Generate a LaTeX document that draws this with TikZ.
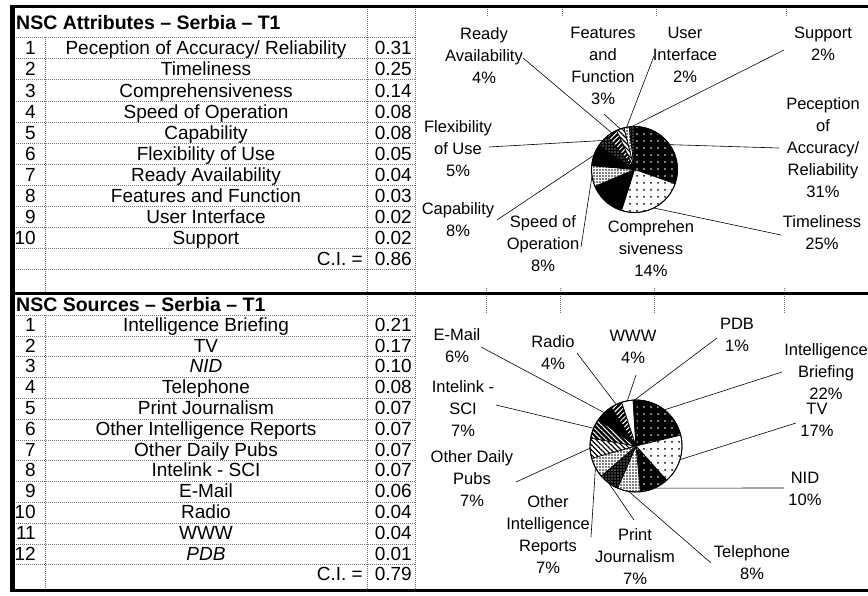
\documentclass[tikz,border=0pt]{standalone}
\usepackage{fontspec}
\setmainfont{Liberation Sans}
\usetikzlibrary{patterns.meta}
\newcommand{\pslice}[5]{\path[#5] (#1) -- ++(#3:#2) arc[start angle=#3, end angle=#4, radius=#2] -- cycle;}
\begin{document}
\begin{tikzpicture}[x=1pt,y=1pt,
  gridline/.style={black!55, line width=0.5pt, dash pattern=on 0.8pt off 1.2pt},
  frame/.style={black, line width=3pt},
  cell/.style={font=\fontsize{19}{22}\selectfont, inner sep=0pt},
  ttl/.style={font=\bfseries\fontsize{19.5}{22}\selectfont, inner sep=0pt, anchor=base west},
  lbl/.style={align=center, font=\fontsize{16.5}{22}\selectfont, inner sep=0pt, anchor=north},
  lead/.style={black, line width=0.6pt},
  sl/.style={draw=black, line width=0.7pt},
  bdot/.style={preaction={fill=black}, pattern={Dots[distance=7pt, radius=0.9pt]}, pattern color=white},
  wdot/.style={preaction={fill=white}, pattern={Dots[distance=7pt, radius=1pt]}, pattern color=black},
  fine/.style={preaction={fill=white}, pattern={Dots[distance=3pt, radius=0.8pt]}, pattern color=black},
  bfine/.style={preaction={fill=black}, pattern={Dots[distance=3pt, radius=0.7pt]}, pattern color=white},
  bstripe/.style={preaction={fill=black}, pattern={Lines[angle=45, distance=3.5pt, line width=1pt]}, pattern color=white},
  bstripeb/.style={preaction={fill=black}, pattern={Lines[angle=-45, distance=3.5pt, line width=1pt]}, pattern color=white},
  wstripe/.style={preaction={fill=white}, pattern={Lines[angle=-45, distance=3.5pt, line width=1.2pt]}, pattern color=black},
]
\fill[white] (0,0) rectangle (868,-596);
\useasboundingbox (0,0) rectangle (868,-596);

% ---------- table grid ----------
\foreach \y in {37.5,58.6,79.7,100.8,121.9,143.0,164.1,185.2,206.3,227.4,248.5,269.6}
  \draw[gridline] (14,-\y) -- (415,-\y);
\draw[gridline] (45,-37.5) -- (45,-294);
\draw[gridline] (367,-7) -- (367,-294);
\draw[gridline] (415,-7) -- (415,-294);
\foreach \y in {315.0,335.8,356.6,377.4,398.2,419.0,439.8,460.6,481.4,502.2,523.0,543.8,564.6}
  \draw[gridline] (14,-\y) -- (415,-\y);
\draw[gridline] (45,-315) -- (45,-590);
\draw[gridline] (367,-294) -- (367,-590);
\draw[gridline] (415,-294) -- (415,-590);
\foreach \x in {487,562,656,786} \draw[gridline] (\x,-7) -- (\x,-16);
\foreach \x in {486,560,654,784} \draw[gridline] (\x,-288) -- (\x,-313);

% ---------- frame ----------
\draw[frame] (10,-7) -- (868,-7);
\draw[frame] (10,-294) -- (868,-294);
\draw[frame] (10,-590) -- (868,-590);
\draw[black, line width=5pt] (12,-5.5) -- (12,-591.5);

% ---------- top table ----------
\node[ttl] (ta0) at (16,-30) {NSC Attributes – Serbia – T1};
\node[cell, anchor=base east] (ta1n) at (36,-54.85) {1};
\node[cell, anchor=base] (ta1t) at (206,-54.85) {Peception of Accuracy/ Reliability};
\node[cell, anchor=base east] (ta1v) at (412,-54.85) {0.31};
\node[cell, anchor=base east] (ta2n) at (36,-75.95) {2};
\node[cell, anchor=base] (ta2t) at (206,-75.95) {Timeliness};
\node[cell, anchor=base east] (ta2v) at (412,-75.95) {0.25};
\node[cell, anchor=base east] (ta3n) at (36,-97.05) {3};
\node[cell, anchor=base] (ta3t) at (206,-97.05) {Comprehensiveness};
\node[cell, anchor=base east] (ta3v) at (412,-97.05) {0.14};
\node[cell, anchor=base east] (ta4n) at (36,-118.15) {4};
\node[cell, anchor=base] (ta4t) at (206,-118.15) {Speed of Operation};
\node[cell, anchor=base east] (ta4v) at (412,-118.15) {0.08};
\node[cell, anchor=base east] (ta5n) at (36,-139.25) {5};
\node[cell, anchor=base] (ta5t) at (206,-139.25) {Capability};
\node[cell, anchor=base east] (ta5v) at (412,-139.25) {0.08};
\node[cell, anchor=base east] (ta6n) at (36,-160.35) {6};
\node[cell, anchor=base] (ta6t) at (206,-160.35) {Flexibility of Use};
\node[cell, anchor=base east] (ta6v) at (412,-160.35) {0.05};
\node[cell, anchor=base east] (ta7n) at (36,-181.45) {7};
\node[cell, anchor=base] (ta7t) at (206,-181.45) {Ready Availability};
\node[cell, anchor=base east] (ta7v) at (412,-181.45) {0.04};
\node[cell, anchor=base east] (ta8n) at (36,-202.55) {8};
\node[cell, anchor=base] (ta8t) at (206,-202.55) {Features and Function};
\node[cell, anchor=base east] (ta8v) at (412,-202.55) {0.03};
\node[cell, anchor=base east] (ta9n) at (36,-223.65) {9};
\node[cell, anchor=base] (ta9t) at (206,-223.65) {User Interface};
\node[cell, anchor=base east] (ta9v) at (412,-223.65) {0.02};
\node[cell, anchor=base east] (ta10n) at (36,-244.75) {10};
\node[cell, anchor=base] (ta10t) at (206,-244.75) {Support};
\node[cell, anchor=base east] (ta10v) at (412,-244.75) {0.02};
\node[cell, anchor=base east] (taci) at (363,-265.85) {C.I. =};
\node[cell, anchor=base east] (taciv) at (412,-265.85) {0.86};

% ---------- bottom table ----------
\node[ttl] (tb0) at (16,-312) {NSC Sources – Serbia – T1};
\node[cell, anchor=base east] (tb1n) at (36,-331.3) {1};
\node[cell, anchor=base] (tb1t) at (206,-331.3) {Intelligence Briefing};
\node[cell, anchor=base east] (tb1v) at (412,-331.3) {0.21};
\node[cell, anchor=base east] (tb2n) at (36,-352.1) {2};
\node[cell, anchor=base] (tb2t) at (206,-352.1) {TV};
\node[cell, anchor=base east] (tb2v) at (412,-352.1) {0.17};
\node[cell, anchor=base east] (tb3n) at (36,-372.9) {3};
\node[cell, anchor=base] (tb3t) at (206,-372.9) {\itshape NID};
\node[cell, anchor=base east] (tb3v) at (412,-372.9) {0.10};
\node[cell, anchor=base east] (tb4n) at (36,-393.7) {4};
\node[cell, anchor=base] (tb4t) at (206,-393.7) {Telephone};
\node[cell, anchor=base east] (tb4v) at (412,-393.7) {0.08};
\node[cell, anchor=base east] (tb5n) at (36,-414.5) {5};
\node[cell, anchor=base] (tb5t) at (206,-414.5) {Print Journalism};
\node[cell, anchor=base east] (tb5v) at (412,-414.5) {0.07};
\node[cell, anchor=base east] (tb6n) at (36,-435.3) {6};
\node[cell, anchor=base] (tb6t) at (206,-435.3) {Other Intelligence Reports};
\node[cell, anchor=base east] (tb6v) at (412,-435.3) {0.07};
\node[cell, anchor=base east] (tb7n) at (36,-456.1) {7};
\node[cell, anchor=base] (tb7t) at (206,-456.1) {Other Daily Pubs};
\node[cell, anchor=base east] (tb7v) at (412,-456.1) {0.07};
\node[cell, anchor=base east] (tb8n) at (36,-476.9) {8};
\node[cell, anchor=base] (tb8t) at (206,-476.9) {Intelink - SCI};
\node[cell, anchor=base east] (tb8v) at (412,-476.9) {0.07};
\node[cell, anchor=base east] (tb9n) at (36,-497.7) {9};
\node[cell, anchor=base] (tb9t) at (206,-497.7) {E-Mail};
\node[cell, anchor=base east] (tb9v) at (412,-497.7) {0.06};
\node[cell, anchor=base east] (tb10n) at (36,-518.5) {10};
\node[cell, anchor=base] (tb10t) at (206,-518.5) {Radio};
\node[cell, anchor=base east] (tb10v) at (412,-518.5) {0.04};
\node[cell, anchor=base east] (tb11n) at (36,-539.3) {11};
\node[cell, anchor=base] (tb11t) at (206,-539.3) {WWW};
\node[cell, anchor=base east] (tb11v) at (412,-539.3) {0.04};
\node[cell, anchor=base east] (tb12n) at (36,-560.1) {12};
\node[cell, anchor=base] (tb12t) at (206,-560.1) {\itshape PDB};
\node[cell, anchor=base east] (tb12v) at (412,-560.1) {0.01};
\node[cell, anchor=base east] (tbci) at (363,-580.9) {C.I. =};
\node[cell, anchor=base east] (tbciv) at (412,-580.9) {0.79};

% ---------- top pie ----------
\coordinate (P1) at (634.5,-169.5);
\coordinate (pa1) at ([shift={(35.3:43)}]P1);
\coordinate (pa2) at ([shift={(-63.5:43)}]P1);
\coordinate (pa4) at ([shift={(188.8:43)}]P1);
\coordinate (pa5) at ([shift={(160.6:43)}]P1);
\coordinate (pa6) at ([shift={(137.6:43)}]P1);
\coordinate (pa7) at ([shift={(121.8:43)}]P1);
\coordinate (pa8) at ([shift={(109.4:43)}]P1);
\coordinate (pa9) at ([shift={(100.6:43)}]P1);
\coordinate (pa10) at ([shift={(93.5:43)}]P1);

\node[lbl] (la7) at (484,-27) {Ready\\Availability\\4\%};
\node[lbl] (la8) at (603,-27) {Features\\and\\Function\\3\%};
\node[lbl] (la9) at (685,-27) {User\\Interface\\2\%};
\node[lbl] (la10) at (823,-27) {Support\\2\%};
\node[lbl] (la1) at (823,-97) {Peception\\of\\Accuracy/\\Reliability\\31\%};
\node[lbl] (la6) at (458,-120) {Flexibility\\of Use\\5\%};
\node[lbl] (la5) at (458,-202) {Capability\\8\%};
\node[lbl] (la4) at (543,-215) {Speed of\\Operation\\8\%};
\node[lbl] (la3) at (651,-220) {Comprehen\\siveness\\14\%};
\node[lbl] (la2) at (822,-215) {Timeliness\\25\%};

\coordinate (ea7) at (523,-58);
\coordinate (ea8) at (604,-114);
\coordinate (ea9) at (654,-56);
\coordinate (ea10) at (784,-50);
\coordinate (ea1) at (779,-148);
\coordinate (ea6) at (489,-147);
\coordinate (ea5) at (497,-220);
\coordinate (ea4) at (581,-247);
\coordinate (ea2) at (781,-235);
\foreach \k in {1,2,4,5,6,7,8,9,10} \draw[lead] (ea\k) -- (pa\k);

\pslice{P1}{43}{90}{-19.41}{sl,bdot}
\pslice{P1}{43}{-19.41}{-107.65}{sl,wdot}
\pslice{P1}{43}{-107.65}{-157.06}{sl,fill=black}
\pslice{P1}{43}{-157.06}{-185.29}{sl,fine}
\pslice{P1}{43}{-185.29}{-213.53}{sl,fill=black}
\pslice{P1}{43}{-213.53}{-231.18}{sl,bfine}
\pslice{P1}{43}{-231.18}{-245.29}{sl,bstripe}
\pslice{P1}{43}{-245.29}{-255.88}{sl,wstripe}
\pslice{P1}{43}{-255.88}{-262.94}{sl,fine}
\pslice{P1}{43}{-262.94}{-270}{sl,bfine}
\draw[line width=0.9pt] (P1) circle[radius=43];

% ---------- bottom pie ----------
\coordinate (P2) at (636,-446);
\coordinate (pb1) at ([shift={(51.8:46)}]P2);
\coordinate (pb2) at ([shift={(-17.3:46)}]P2);
\coordinate (pb3) at ([shift={(-66.4:46)}]P2);
\coordinate (pb4) at ([shift={(-99.1:46)}]P2);
\coordinate (pb5) at ([shift={(-126.4:46)}]P2);
\coordinate (pb6) at ([shift={(-151.8:46)}]P2);
\coordinate (pb7) at ([shift={(182.7:46)}]P2);
\coordinate (pb8) at ([shift={(157.3:46)}]P2);
\coordinate (pb9) at ([shift={(133.6:46)}]P2);
\coordinate (pb10) at ([shift={(115.5:46)}]P2);
\coordinate (pb11) at ([shift={(100.9:46)}]P2);
\coordinate (pb12) at ([shift={(91.8:46)}]P2);

\node[lbl] (lb9) at (457,-328) {E-Mail\\6\%};
\node[lbl] (lb10) at (553,-335) {Radio\\4\%};
\node[lbl] (lb11) at (633,-330) {WWW\\4\%};
\node[lbl] (lb12) at (737,-318) {PDB\\1\%};
\node[lbl] (lb1) at (826,-343) {Intelligence\\Briefing\\22\%};
\node[lbl] (lb2) at (817,-403) {TV\\17\%};
\node[lbl] (lb8) at (463,-380) {Intelink -\\SCI\\7\%};
\node[lbl] (lb7) at (472,-450) {Other Daily\\Pubs\\7\%};
\node[lbl] (lb6) at (548,-495) {Other\\Intelligence\\Reports\\7\%};
\node[lbl] (lb5) at (635,-528) {Print\\Journalism\\7\%};
\node[lbl] (lb4) at (752,-545) {Telephone\\8\%};
\node[lbl] (lb3) at (805,-472) {NID\\10\%};

\coordinate (eb9) at (481,-347);
\coordinate (eb10) at (577,-353);
\coordinate (eb11) at (636,-375);
\coordinate (eb12) at (717,-338);
\coordinate (eb1) at (782,-372);
\coordinate (eb2) at (796,-423);
\coordinate (eb8) at (496,-405);
\coordinate (eb7) at (516,-482);
\coordinate (eb6) at (591,-537);
\coordinate (eb5) at (634,-520);
\coordinate (eb4) at (711,-563);
\coordinate (eb3) at (784,-488);
\foreach \k in {1,...,12} \draw[lead] (eb\k) -- (pb\k);

\pslice{P2}{46}{90}{13.64}{sl,bdot}
\pslice{P2}{46}{13.64}{-48.18}{sl,wdot}
\pslice{P2}{46}{-48.18}{-84.55}{sl,bdot}
\pslice{P2}{46}{-84.55}{-113.64}{sl,fine}
\pslice{P2}{46}{-113.64}{-139.09}{sl,bfine}
\pslice{P2}{46}{-139.09}{-164.55}{sl,fine}
\pslice{P2}{46}{-164.55}{-190}{sl,wstripe}
\pslice{P2}{46}{-190}{-215.45}{sl,bstripeb}
\pslice{P2}{46}{-215.45}{-237.27}{sl,fill=black}
\pslice{P2}{46}{-237.27}{-251.82}{sl,bstripe}
\pslice{P2}{46}{-251.82}{-266.36}{sl,fill=white}
\pslice{P2}{46}{-266.36}{-270}{sl,fill=black}
\draw[line width=0.9pt] (P2) circle[radius=46];
\end{tikzpicture}
\end{document}
